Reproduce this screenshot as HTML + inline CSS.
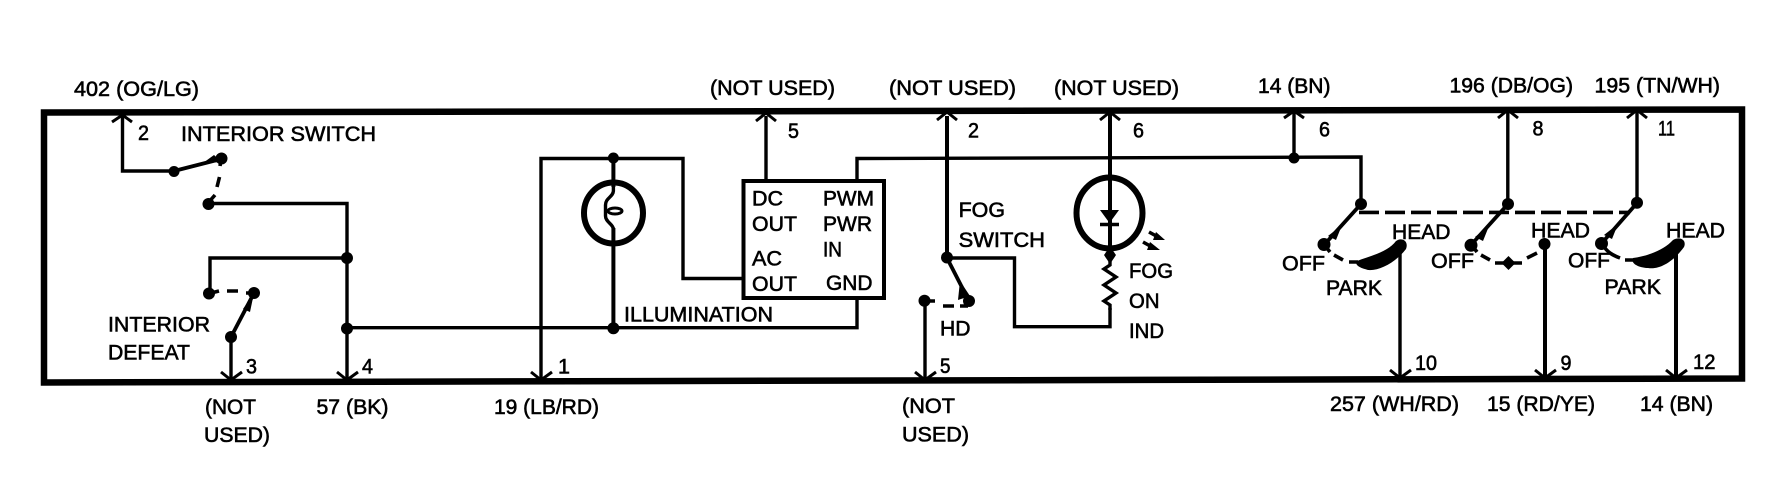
<!DOCTYPE html>
<html>
<head>
<meta charset="utf-8">
<title>Wiring diagram</title>
<style>
html,body{margin:0;padding:0;background:#fff;width:1790px;height:480px;overflow:hidden}
svg{display:block}
text{font-family:"Liberation Sans",sans-serif;font-size:21.5px;fill:#000;stroke:#000;stroke-width:.6px}
.w{fill:none;stroke:#000;stroke-width:3.4;stroke-linejoin:miter}
.a{fill:none;stroke:#000;stroke-width:3}
.d{fill:none;stroke:#000;stroke-width:3.6}
.s{fill:none;stroke:#000;stroke-width:3.8}
</style>
</head>
<body>
<svg width="1790" height="480" viewBox="0 0 1790 480" xmlns="http://www.w3.org/2000/svg">
<rect width="1790" height="480" fill="#fff"/>
<!-- outer box -->
<polygon points="44,112.5 1742,109.5 1742,378.5 44,382.5" fill="none" stroke="#000" stroke-width="6.5"/>

<!-- left section wires -->
<path class="w" d="M122.5 116V171H174"/>
<path class="s" d="M174 171L221 159"/>
<polygon points="203,163 214,155 222,162" fill="#000"/>
<path class="d" d="M221 160L220 166M219.5 177L217 187M215 195L208 203"/>
<path class="w" d="M208 203.5H347V380"/>
<path class="w" d="M347 258H210V293"/>
<path class="d" d="M209 293.5L219 291M227 291H238M246 293H254"/>
<path class="s" d="M254 293L231 337"/>
<polygon points="243,309 254,293 250,312" fill="#000"/>
<path class="w" d="M231 337V380"/>
<path class="w" d="M347 327.7H857V298"/>
<path class="w" d="M541 380V158.5H683V278.5H744"/>
<path class="w" style="stroke-width:4" d="M613.4 158V187M613.4 228V328"/>
<!-- lamp -->
<ellipse cx="613.5" cy="213" rx="29.5" ry="30.5" fill="none" stroke="#000" stroke-width="6"/>
<path class="w" d="M613.4 183V191C613 197 605.5 198 605.5 205V216C605.5 222 613 224 613.4 229"/>
<ellipse cx="615" cy="211" rx="7" ry="3" fill="none" stroke="#000" stroke-width="3"/>
<!-- module -->
<rect x="743.5" y="181" width="140.5" height="117" fill="#fff" stroke="#000" stroke-width="4"/>
<path class="w" d="M766 116V181"/>
<path class="w" d="M857 181V158.5L1361 157V204"/>
<!-- fog switch -->
<path class="w" style="stroke-width:4" d="M947 116V257.5"/>
<path class="w" d="M947 258H1014.5V326.7H1110V308"/>
<path class="s" d="M947 258L969 301"/>
<polygon points="960,281 970,296 958,300" fill="#000"/>
<path class="d" d="M925 301H935M943 306H954M960 306H968"/>
<path class="w" d="M925 300V380"/>
<!-- LED -->
<path class="w" style="stroke-width:4" d="M1110 112V255"/>
<ellipse cx="1109.5" cy="213" rx="33" ry="35.5" fill="none" stroke="#000" stroke-width="6"/>
<polygon points="1100,210 1119,210 1109.5,223" fill="#000"/>
<path d="M1100 224.5H1119" stroke="#000" stroke-width="3.4" fill="none"/>
<polygon points="1110,247 1116,255 1110,264 1104,255" fill="#000"/>
<path class="w" d="M1110 255V265L1104 269L1116 277L1104 285L1116 293L1104 301L1110 305V310"/>
<path d="M1149 232L1158 237M1143 242L1152 247" fill="none" stroke="#000" stroke-width="3.5"/>
<polygon points="1156,232 1165,240 1153,240" fill="#000"/>
<polygon points="1150,242 1160,250 1147,250" fill="#000"/>

<!-- headlamp switch wires -->
<path class="w" d="M1294 111V158"/>
<path class="w" d="M1507.8 110V204"/>
<path class="w" d="M1637 110V203"/>
<path d="M1359 212.4H1630" fill="none" stroke="#000" stroke-width="3.6" stroke-dasharray="20 6"/>
<path class="s" d="M1361 204L1324 245"/>
<path class="s" d="M1508 204L1471 245"/>
<path class="s" d="M1637 203L1601 244"/>
<polygon points="1328,236 1342,225 1336,240" fill="#000"/>
<polygon points="1475,237 1489,226 1483,241" fill="#000"/>
<polygon points="1604,235 1618,224 1612,239" fill="#000"/>
<path class="d" d="M1326 247L1330 252M1334 255L1343 260M1349 262H1358"/>
<path class="d" d="M1474 248L1477 252M1481 255L1490 260M1495 263H1522M1527 258L1537 253"/>
<path class="d" d="M1603 245C1607 252 1612 255 1620 258M1625 260H1633"/>
<path d="M1357 261C1370 256 1388 252 1396 241C1402 237 1409 241 1406 249C1396 262 1380 271 1368 270C1360 268 1354 265 1357 261Z" fill="#000"/>
<path d="M1633 258C1648 256 1664 250 1673 240C1680 236 1687 240 1684 247C1674 261 1660 270 1648 268C1640 268 1630 264 1633 258Z" fill="#000"/>
<path class="w" d="M1400 250V380"/>
<path class="w" style="stroke-width:4" d="M1545 244V380"/>
<path class="w" style="stroke-width:4" d="M1676 250V380"/>
<polygon points="1508.5,256 1515.5,263 1508.5,270 1501.5,263" fill="#000"/>

<!-- nodes -->
<g fill="#000">
<circle cx="174" cy="171.5" r="5.5"/><circle cx="221.5" cy="158.5" r="6"/><circle cx="208.5" cy="204" r="6"/>
<circle cx="347" cy="258" r="6"/><circle cx="347" cy="328.5" r="6"/><circle cx="209" cy="293.5" r="6"/>
<circle cx="254" cy="293" r="6"/><circle cx="231" cy="337" r="6"/>
<circle cx="613.4" cy="158" r="5.5"/><circle cx="613.4" cy="328.3" r="6"/>
<circle cx="947" cy="257.5" r="6"/><circle cx="969" cy="301" r="6"/><circle cx="924.5" cy="300.7" r="6"/>
<circle cx="1110" cy="255" r="5"/>
<circle cx="1294" cy="158" r="5.5"/>
<circle cx="1361" cy="204" r="6"/><circle cx="1324" cy="244.5" r="6.5"/>
<circle cx="1508" cy="204" r="6"/><circle cx="1471" cy="245.3" r="6.5"/><circle cx="1544.5" cy="244" r="6"/>
<circle cx="1637" cy="202.7" r="6"/><circle cx="1601.5" cy="243.5" r="6.5"/>
</g>

<!-- arrowheads up -->
<g class="a" fill="none" stroke="#000" stroke-width="3">
<path d="M112 122L122.5 115L132 122"/>
<path d="M756 121L766 113L776 121"/>
<path d="M937 120L947 112L957 120"/>
<path d="M1100 120L1110 112L1120 120"/>
<path d="M1284 118L1294 111L1304 118"/>
<path d="M1498 118L1507.8 110L1518 118"/>
<path d="M1627 118L1637 110L1647 118"/>
<!-- arrowheads down -->
<path d="M221 372L231 380L242 372"/>
<path d="M337 372L347 380L358 372"/>
<path d="M531 372L541 380L552 372"/>
<path d="M915 372L925 380L936 372"/>
<path d="M1390 370L1400 378L1411 370"/>
<path d="M1535 370L1545 378L1556 370"/>
<path d="M1666 370L1676 378L1687 370"/>
</g>

<!-- labels -->
<g>
<text x="74" y="96" textLength="125" lengthAdjust="spacingAndGlyphs">402 (OG/LG)</text>
<text x="138" y="140" textLength="11" lengthAdjust="spacingAndGlyphs">2</text>
<text x="181" y="141" textLength="195" lengthAdjust="spacingAndGlyphs">INTERIOR SWITCH</text>
<text x="108" y="331.7" textLength="102" lengthAdjust="spacingAndGlyphs">INTERIOR</text>
<text x="108" y="359.3" textLength="82" lengthAdjust="spacingAndGlyphs">DEFEAT</text>
<text x="246" y="373.3" textLength="11" lengthAdjust="spacingAndGlyphs">3</text>
<text x="362" y="373.3" textLength="11" lengthAdjust="spacingAndGlyphs">4</text>
<text x="558" y="373.3" textLength="12" lengthAdjust="spacingAndGlyphs">1</text>
<text x="205" y="414" textLength="51" lengthAdjust="spacingAndGlyphs">(NOT</text>
<text x="204" y="442" textLength="66" lengthAdjust="spacingAndGlyphs">USED)</text>
<text x="316.5" y="414" textLength="72" lengthAdjust="spacingAndGlyphs">57 (BK)</text>
<text x="494" y="414" textLength="105" lengthAdjust="spacingAndGlyphs">19 (LB/RD)</text>

<text x="710" y="95" textLength="125" lengthAdjust="spacingAndGlyphs">(NOT USED)</text>
<text x="889" y="95" textLength="127" lengthAdjust="spacingAndGlyphs">(NOT USED)</text>
<text x="1054" y="95" textLength="125" lengthAdjust="spacingAndGlyphs">(NOT USED)</text>
<text x="788" y="138" textLength="11" lengthAdjust="spacingAndGlyphs">5</text>
<text x="968" y="137.7" textLength="11" lengthAdjust="spacingAndGlyphs">2</text>
<text x="1133" y="137.7" textLength="11" lengthAdjust="spacingAndGlyphs">6</text>
<text x="752" y="205.7" textLength="31" lengthAdjust="spacingAndGlyphs">DC</text>
<text x="752" y="231" textLength="45" lengthAdjust="spacingAndGlyphs">OUT</text>
<text x="752" y="265.7" textLength="30" lengthAdjust="spacingAndGlyphs">AC</text>
<text x="752" y="291" textLength="45" lengthAdjust="spacingAndGlyphs">OUT</text>
<text x="823" y="205.7" textLength="51" lengthAdjust="spacingAndGlyphs">PWM</text>
<text x="823" y="231" textLength="49" lengthAdjust="spacingAndGlyphs">PWR</text>
<text x="823" y="256.7" textLength="19" lengthAdjust="spacingAndGlyphs">IN</text>
<text x="826" y="290" textLength="46.5" lengthAdjust="spacingAndGlyphs">GND</text>
<text x="624" y="321.7" textLength="149" lengthAdjust="spacingAndGlyphs">ILLUMINATION</text>
<text x="958.6" y="217" textLength="46.4" lengthAdjust="spacingAndGlyphs">FOG</text>
<text x="958.6" y="247" textLength="86.4" lengthAdjust="spacingAndGlyphs">SWITCH</text>
<text x="1129" y="278" textLength="44" lengthAdjust="spacingAndGlyphs">FOG</text>
<text x="1129" y="308" textLength="30.5" lengthAdjust="spacingAndGlyphs">ON</text>
<text x="1129" y="338" textLength="35" lengthAdjust="spacingAndGlyphs">IND</text>
<text x="940" y="335.7" textLength="30.5" lengthAdjust="spacingAndGlyphs">HD</text>
<text x="940" y="373" textLength="10.5" lengthAdjust="spacingAndGlyphs">5</text>
<text x="902" y="413" textLength="53" lengthAdjust="spacingAndGlyphs">(NOT</text>
<text x="902" y="441.7" textLength="67" lengthAdjust="spacingAndGlyphs">USED)</text>

<text x="1258" y="93" textLength="72.5" lengthAdjust="spacingAndGlyphs">14 (BN)</text>
<text x="1449.5" y="92.7" textLength="123.5" lengthAdjust="spacingAndGlyphs">196 (DB/OG)</text>
<text x="1594.5" y="92.7" textLength="125.5" lengthAdjust="spacingAndGlyphs">195 (TN/WH)</text>
<text x="1319" y="136.7" textLength="11" lengthAdjust="spacingAndGlyphs">6</text>
<text x="1532.5" y="135.7" textLength="11" lengthAdjust="spacingAndGlyphs">8</text>
<text x="1658" y="135.7" textLength="17" lengthAdjust="spacingAndGlyphs">11</text>
<text x="1392" y="239" textLength="58.5" lengthAdjust="spacingAndGlyphs">HEAD</text>
<text x="1282" y="270.7" textLength="43" lengthAdjust="spacingAndGlyphs">OFF</text>
<text x="1326" y="295" textLength="56" lengthAdjust="spacingAndGlyphs">PARK</text>
<text x="1531" y="237.7" textLength="59" lengthAdjust="spacingAndGlyphs">HEAD</text>
<text x="1431" y="268" textLength="43" lengthAdjust="spacingAndGlyphs">OFF</text>
<text x="1666" y="237.7" textLength="59" lengthAdjust="spacingAndGlyphs">HEAD</text>
<text x="1568" y="267.7" textLength="42" lengthAdjust="spacingAndGlyphs">OFF</text>
<text x="1604.5" y="294" textLength="56.5" lengthAdjust="spacingAndGlyphs">PARK</text>
<text x="1415" y="370" textLength="22" lengthAdjust="spacingAndGlyphs">10</text>
<text x="1560.5" y="370" textLength="11" lengthAdjust="spacingAndGlyphs">9</text>
<text x="1693" y="369" textLength="22.5" lengthAdjust="spacingAndGlyphs">12</text>
<text x="1330" y="411" textLength="129" lengthAdjust="spacingAndGlyphs">257 (WH/RD)</text>
<text x="1487" y="411" textLength="108" lengthAdjust="spacingAndGlyphs">15 (RD/YE)</text>
<text x="1640" y="411" textLength="73" lengthAdjust="spacingAndGlyphs">14 (BN)</text>
</g>
</svg>
</body>
</html>
